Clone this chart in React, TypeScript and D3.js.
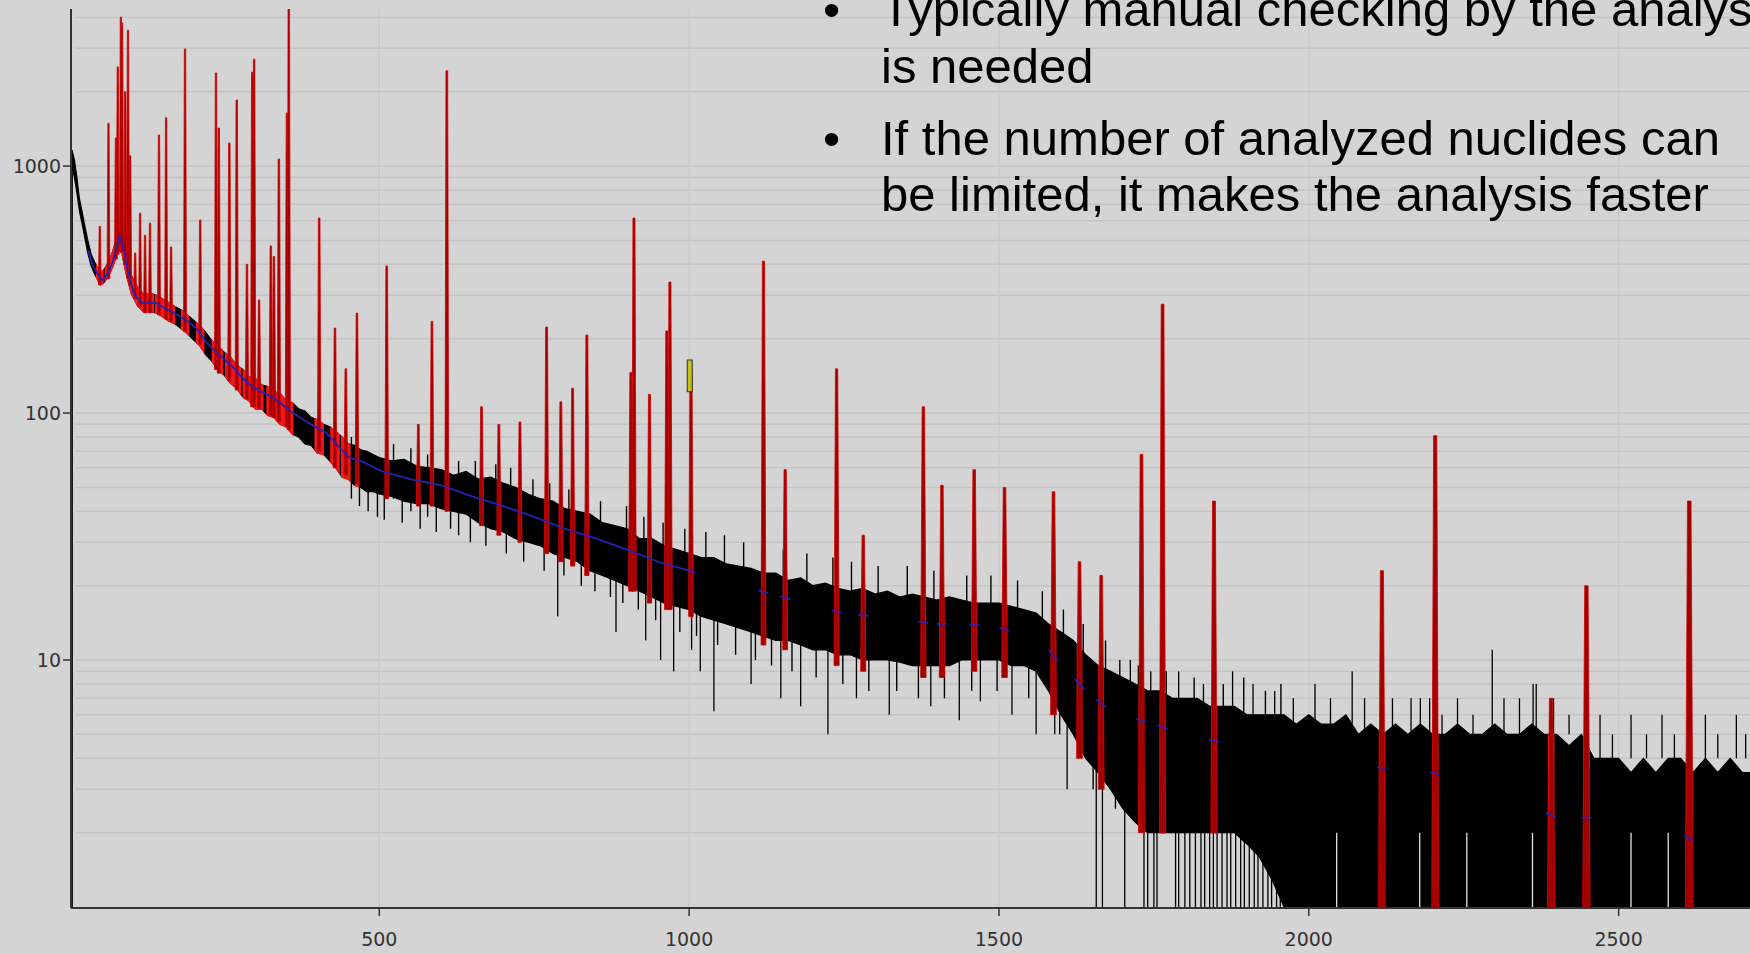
import React from 'react';
import * as d3 from 'd3';

const W = 1750;
const H = 954;

// axis ticks
const xTicks = [500, 1000, 1500, 2000, 2500];
const yTicks = [10, 100, 1000];

// black spectrum envelope [energy keV, low count, high count]
const bandLow: number[][] = [
  [4,1000,1160],[8,900,1060],[12,780,900],[16,660,740],[20,590,660],[25,510,570],[30,440,495],[35,395,440],
  [40,368,412],[45,348,388],[50,330,372],[55,336,378],[60,350,396],[65,368,420],[70,392,452],[75,428,500],
  [80,462,545],[85,440,520],[90,382,452],[95,340,402],[100,304,360],[110,272,322],[120,256,302],[130,258,306],
  [140,254,300],[150,246,290],[160,236,280],[170,230,270],[180,220,262],[190,210,250],[200,198,238],[210,188,226],
  [220,172,212],[230,162,196],[240,150,186],[250,142,176],[260,132,168],[270,126,156],[280,116,150],[290,112,140],
  [300,104,138],[310,104,130],[320,98,128],[330,96,122],[340,90,120],[350,88,112],[360,82,110],[370,80,104],
  [380,75,102],[390,74,96],[400,69,94],[410,68,90],[420,64,88],[430,60,84],[440,55,80],[450,54,75],
  [460,51,74],[470,50,71],[480,48,70],[490,48,68],[500,47,66],
];
const bandMid: number[][] = [
  [520,46,64],[540,44,65],[560,43,61],[580,43,60],[600,41,59],[620,40,56],[640,39,58],[660,36,54],[680,34,55],
  [700,33,52],[720,31,50],[740,30,47],[760,29,45],[780,27,44],[800,26,41],[820,25,40],[840,23,39],[860,22,36],
  [880,21,35],[900,20,34],[920,19,31],[940,18,31],[960,17,29],[980,16.5,28],[1000,16,27],[1020,15,26],
  [1040,14.5,26],[1060,14,24.5],[1080,13.5,24],[1100,13,23.5],[1120,12.5,22.5],[1140,12,22.5],[1160,12,21],
  [1180,11.5,21.5],[1200,11,20],[1220,11,20.5],[1240,10.5,19.5],[1260,10.5,19],[1280,10,19.5],[1300,10,18.5],
  [1320,10,19],[1340,9.8,18],[1360,9.5,18.5],[1380,9.5,18],[1400,9.5,17.5],[1420,9.5,18],[1440,10,17.5],
  [1460,10,17],[1480,10,17],[1500,10,17],[1520,9.5,16.5],[1540,9.5,16],[1560,9,15.5],[1580,7.5,14],
];
const bandHigh: number[][] = [
  [1600,6,13],[1620,5,12],[1640,4,10.5],[1660,3.5,9.5],[1680,3,9],[1700,2.5,8.5],[1720,2.2,8],[1740,2,7.5],
  [1760,2,7.5],[1780,2,7],[1800,2,7],[1820,2,7],[1840,2,6.5],[1860,2,6.5],[1880,2,6.5],[1900,1.8,6],
  [1920,1.6,6],[1940,1.3,6],[1960,1,6],[1980,1,5.5],[2000,1,6],[2020,1,5.5],[2040,1,5.5],[2060,1,6],
  [2080,1,5],[2100,1,5.5],[2120,1,5],[2140,1,5.5],[2160,1,5],[2180,1,5.5],[2200,1,5],[2220,1,5],
  [2240,1,5.5],[2260,1,5],[2280,1,5],[2300,1,5.5],[2320,1,5],[2340,1,5],[2360,1,5.5],[2380,1,5],
  [2400,1,5],[2420,1,4.5],[2440,1,5],[2460,1,4],[2480,1,4],[2500,1,4],[2520,1,3.5],[2540,1,4],
  [2560,1,3.5],[2580,1,4],[2600,1,4],[2620,1,3.5],[2640,1,4],[2660,1,3.5],[2680,1,4],[2700,1,3.5],[2712,1,3.5],
];

// individual black spikes [energy, from count, to count]
const blackSpikes: number[][] = [
  [4.5,1,1160],
  [788,15,35],[882,13,28],[930,12,25],[954,10,24],[975,9,22],[1004,11,22],[1018,9,20],[1040,6.2,20],
  [1100,8,18],[1148,7,18],[1180,6.5,16],[1224,5,16],[1270,7,15],[1323,6,15],[1390,6.5,14],[1436,5.7,15],
  [1470,6.8,14],[1521,6,14],[1560,5,12],[1590,5,10],[1610,3,9],
  [1657,1,5],[1667,1,5],[1703,1,4],[1734,1,4],[1740,1,4],[1750,1,4],[1755,1,4],[1785,1,4],[1790,1,4],
  [1800,1,4],[1808,1,4],[1817,1,4],[1826,1,3],[1832,1,3],[1840,1,3],[1846,1,3],[1852,1,3],[1860,1,3],
  [1868,1,3],[1874,1,3],[1882,1,3],[1890,1,3],[1896,1,3],[1904,1,3],[1912,1,3],[1918,1,3],[1926,1,3],
  [1934,1,3],[1940,1,3],[1948,1,3],[1954,1,3],
  [1712,8,10],[1745,7.5,9],[1790,7,9],[1830,6.5,8],[1877,6.5,9],[1910,6,8],[1945,6,7.5],
  [1975,5,7],[2010,5.5,8],[2035,5,7],[2070,5.5,9],[2090,5,7],[2135,5,7],[2165,5,7],[2180,5,7],[2195,5,7],
  [2215,5,6],[2240,5,7],[2265,5,6],[2296,5,11],[2315,5,7],[2340,5,7],[2362,5,8],[2367,5,8],[2395,5,7],
  [2420,5,6],[2470,4,6],[2490,4,5],[2520,4,6],[2545,4,5],[2570,4,6],[2590,4,5],[2640,4,6],[2660,4,5],
  [2690,4,6],[2705,4,5],
];

// channel noise sticking out of the band [energy, from count, to count]
const blackNoise: number[][] = [
  [455,45,80],[468,42,70],[482,40,60],[497,38,58],[508,37,60],[523,45,75],[537,36,60],[551,40,72],[566,34,55],
  [578,38,68],[592,33,55],[615,34,50],[628,32,64],[647,30,50],[655,40,64],[672,29,50],[688,40,62],[705,27,48],
  [712,36,60],[733,25,45],[748,36,54],[766,23,42],[775,34,52],[798,22,40],[806,30,49],[826,20,38],[848,19,36],
  [857,28,44],[873,18,34],[893,17,32],[899,26,42],[918,16,30],[927,24,38],[946,14.5,28],[958,23,36],[985,13,26],
  [993,22,34],[1012,12.5,25],[1027,21,33],[1046,11.5,24],[1057,20,32],[1075,10.5,22],[1088,19,30],[1107,10,21],
  [1118,18,29],[1133,9.5,20],[1152,17,28],[1166,9,19],[1190,16,27],[1205,8.5,18],[1232,16,26],[1248,8,17],
  [1262,15,25],[1290,7.5,16],[1305,15,24],[1335,7.5,15],[1352,14,24],[1370,7,14],[1395,14,23],[1412,7,14],
  [1448,14,22],[1456,7.5,15],[1487,14,22],[1497,7.5,15],[1530,13,21],[1548,7,15],[1570,12,19],[1598,5,10],
  [1604,10,16],[1628,4,9],[1636,9,14],[1652,3,8],[1672,8,12],[1688,2.5,7],[1695,7,10],[1725,7,9.5],
  [1770,6.5,9],[1815,6.5,8.5],[1862,6,8],[1895,6,8.5],[1930,5.5,7.5],[1955,5.5,8],
];

// gaps in the dense high-energy block (energy)
const gapE = [2045, 2120, 2179, 2255, 2361, 2520, 2580];

// fitted continuum (blue) [energy, count]
const continuum: number[][] = [
  [30,455],[37,400],[44,372],[50,350],[55,345],[62,370],[70,410],[76,470],[81,520],[86,480],[92,400],[98,345],
  [103,310],[110,290],[119,278],[130,280],[141,278],[155,265],[167,255],[180,245],[194,232],[207,217],[220,195],
  [235,178],[250,165],[264,153],[280,138],[295,128],[310,122],[325,117],[340,110],[356,102],[372,96],[390,90],
  [415,83],[435,73],[452,66],[470,64],[505,58],[550,54],[600,51],[650,46],[700,42],[750,38],[800,34],[850,31],
  [900,28],[950,25],[1000,23],[1050,21],[1100,19.5],[1150,18],[1200,16.5],[1250,15.5],[1300,15],[1350,14.5],
  [1400,14],[1450,14],[1500,13.5],[1550,12.5],[1580,11],[1610,9],[1640,7.5],[1670,6.5],[1700,6],[1750,5.5],
  [1800,5],[1850,4.7],[1900,4.4],[2000,4],[2100,3.7],[2200,3.5],[2300,3],[2400,2.3],[2500,2.3],[2600,2],[2712,1.3],
];

// identified peaks (red) [energy, top count, base count]
const peaks: number[][] = [
  [49,570,330],[63,1490,350],[75,1300,420],[78,2520,440],[83,4010,450],[85,3800,450],[90,2000,400],
  [94.5,3550,350],[98,1100,330],[106,445,290],[114,645,270],[122,525,255],[130,588,255],[144.5,1335,250],
  [156,1570,240],[164,470,235],[186.5,2980,215],[211,605,190],[236.5,2380,150],[241,1425,145],[258,1240,135],
  [270,1850,124],[286.5,400,114],[295,2400,106],[298,2710,106],[306,287,104],[325,475,98],[330,430,96],
  [338,1068,92],[351,1640,88],[354,4330,86],[403,616,70],[428.5,221,60],[446,151,56],[464,254,52],
  [512,394,45],[563,90,42],[585,235,42],[609,2430,40],[665,106,35],[693,90,32],[727,92,30],[770,223,27],
  [793,111,25],[812,126,24],[835,207,22],[906,146,19],[911,616,19],[936,119,17],[964,215,16],[969,339,16],
  [1003,151,15],[1120,412,11.5],[1155,59,11],[1238,151,9.5],[1281,32,9],[1378,106,8.5],[1408,51,8.5],
  [1460,59,9],[1509,50,8.5],[1588,48,6],[1630,25,4],[1665,22,3],[1730,68,2],[1764,276,2],[1847,44,2],
  [2118,23,1],[2204,81,1],[2391,7,1],[2448,20,1],[2614,44,1],
];

// selected-channel marker [energy, low count, high count]
const marker = [1001, 122, 164];

const bulletLines = [
  { text: 'Typically manual checking by the analyst', y: 26, bullet: true },
  { text: 'is needed', y: 83, bullet: false },
  { text: 'If the number of analyzed nuclides can', y: 155, bullet: true },
  { text: 'be limited, it makes the analysis faster', y: 211, bullet: false },
];

export default function App() {
  const x = d3.scaleLinear().domain([2.5, 2712]).range([71, 1750]);
  const y = d3.scaleLog().domain([1, 4325]).range([907, 9]).clamp(true);

  const band = [...bandLow, ...bandMid, ...bandHigh];
  const area = d3
    .area<number[]>()
    .x((d) => x(d[0]))
    .y0((d) => y(d[1]))
    .y1((d) => y(d[2]));
  const bandPath = area(band) || '';
  const line = d3
    .line<number[]>()
    .x((d) => x(d[0]))
    .y((d) => y(d[1]));
  const contPath = line(continuum) || '';

  const gridY: number[] = [];
  [1, 10, 100, 1000].forEach((dec) => {
    for (let m = 1; m <= 9; m++) {
      const v = dec * m;
      if (v > 1 && v <= 4325) gridY.push(v);
    }
  });

  const win = (e: number) => (e < 450 ? 6 + e * 0.004 : 2.5 + e * 0.0012);

  const peakPath = (p: number[]) => {
    const cx = x(p[0]);
    const hw = 1.3 + p[0] / 1000;
    const yt = y(p[1]);
    const yb = y(p[2]);
    return `M${cx - hw},${yb}L${cx - hw * 0.45},${yt}L${cx + hw * 0.45},${yt}L${cx + hw},${yb}Z`;
  };

  const font = "'DejaVu Sans', sans-serif";
  const textFont = "'Liberation Sans', Arial, sans-serif";

  return (
    <svg
      width={W}
      height={H}
      viewBox={`0 0 ${W} ${H}`}
      style={{ position: 'absolute', left: 0, top: 0, display: 'block' }}
    >
      <defs>
        <clipPath id="plot">
          <rect x={71} y={9} width={W - 71} height={899} />
        </clipPath>
        <clipPath id="redclip">
          {peaks.map((p, i) => (
            <rect key={i} x={x(p[0] - win(p[0]))} y={0} width={x(p[0] + win(p[0])) - x(p[0] - win(p[0]))} height={H} />
          ))}
        </clipPath>
        <clipPath id="blueclip">
          <rect x={x(30)} y={0} width={x(1010) - x(30)} height={H} />
          {peaks
            .filter((p) => p[0] > 1010)
            .map((p, i) => (
              <rect key={i} x={x(p[0] - 8)} y={0} width={x(p[0] + 8) - x(p[0] - 8)} height={H} />
            ))}
        </clipPath>
      </defs>
      <rect x={0} y={0} width={W} height={H} fill="#d4d4d4" />

      {/* grid */}
      <g stroke="#c3c3c3" strokeWidth={1.5}>
        {gridY.map((v) => (
          <line key={v} x1={75} x2={W} y1={y(v)} y2={y(v)} />
        ))}
        {xTicks.map((t) => (
          <line key={t} x1={x(t)} x2={x(t)} y1={9} y2={907} stroke="#c6c6c6" strokeWidth={1.2} />
        ))}
      </g>

      <g clipPath="url(#plot)">
        {/* black measured spectrum */}
        <path d={bandPath} fill="#000" stroke="#000" strokeWidth={1.2} />
        {blackSpikes.map((s, i) => (
          <line key={i} x1={x(s[0])} x2={x(s[0])} y1={y(s[1])} y2={y(s[2])} stroke="#000" strokeWidth={1.3} />
        ))}
        {blackNoise.map((s, i) => (
          <line key={i} x1={x(s[0])} x2={x(s[0])} y1={y(s[1])} y2={y(s[2])} stroke="#000" strokeWidth={1.4} />
        ))}
        {gapE.map((e, i) => (
          <line key={i} x1={x(e)} x2={x(e)} y1={y(1)} y2={y(2)} stroke="#e0e0e0" strokeWidth={1.3} />
        ))}
        {/* red fitted regions */}
        <g clipPath="url(#redclip)">
          <path d={bandPath} fill="#f01818" stroke="#f01818" strokeWidth={1.5} />
        </g>
        {peaks.map((p, i) => (
          <path key={i} d={peakPath(p)} fill="#a00000" stroke="#d00000" strokeWidth={0.8} />
        ))}
        {/* continuum */}
        <g clipPath="url(#blueclip)">
          <path d={contPath} fill="none" stroke="#2424b4" strokeWidth={1.8} />
        </g>
        <rect
          x={x(marker[0]) - 2.5}
          y={y(marker[2])}
          width={5}
          height={y(marker[1]) - y(marker[2])}
          fill="#c2c21c"
          stroke="#333"
          strokeWidth={1}
        />
      </g>

      {/* axes */}
      <line x1={71} x2={71} y1={9} y2={908} stroke="#333" strokeWidth={2} />
      <line x1={71} x2={W} y1={908} y2={908} stroke="#333" strokeWidth={2} />
      {yTicks.map((t) => (
        <g key={t}>
          <line x1={63} x2={71} y1={y(t)} y2={y(t)} stroke="#333" strokeWidth={1.5} />
          <text x={61} y={y(t) + 7} textAnchor="end" fontFamily={font} fontSize={19} fill="#333">
            {t}
          </text>
        </g>
      ))}
      {xTicks.map((t) => (
        <g key={t}>
          <line x1={x(t)} x2={x(t)} y1={908} y2={916} stroke="#333" strokeWidth={1.5} />
          <text x={x(t)} y={946} textAnchor="middle" fontFamily={font} fontSize={19} fill="#333">
            {t}
          </text>
        </g>
      ))}

      {/* slide text */}
      <g fontFamily={textFont} fontSize={49} fill="#000">
        {bulletLines.map((l, i) => (
          <g key={i}>
            {l.bullet && (
              <text x={823} y={l.y}>
                •
              </text>
            )}
            <text x={881} y={l.y}>
              {l.text}
            </text>
          </g>
        ))}
      </g>
    </svg>
  );
}
